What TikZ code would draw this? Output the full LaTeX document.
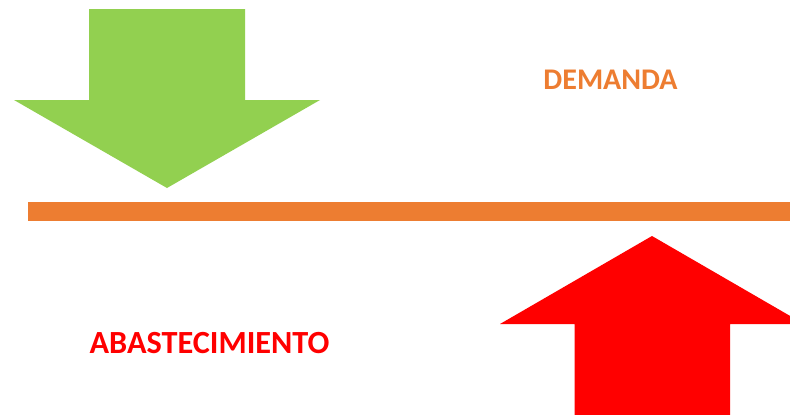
\documentclass[tikz,border=0pt]{standalone}
\usepackage{fontspec}
\setmainfont{Carlito}
\definecolor{arrowgreen}{HTML}{92D050}
\definecolor{barorange}{HTML}{ED7D31}
\definecolor{arrowred}{HTML}{FF0000}
\begin{document}
\begin{tikzpicture}[x=1pt,y=-1pt,
  lbl/.style={bold, inner sep=0pt, anchor=base},
  bold/.style={font=\bfseries}]
\useasboundingbox (0,0) rectangle (790,415);
\begin{scope}
\clip (0,0) rectangle (790,415);
% green arrow down
\fill[arrowgreen] (89,9) -- (245,9) -- (245,100) -- (320,100) -- (167,188) -- (14,100) -- (89,100) -- cycle;
% orange bar
\fill[barorange] (28,202) rectangle (790,221);
% red arrow up
\fill[arrowred] (574.5,415) -- (574.5,324) -- (500,324) -- (652,236) -- (804,324) -- (730,324) -- (730,415) -- cycle;
\end{scope}
\node[lbl, text=barorange, font=\fontsize{30}{36}\selectfont\bfseries] (dem) at (610.5,89.3) {DEMANDA};
\node[lbl, text=arrowred, font=\fontsize{32.3}{38}\selectfont\bfseries] (aba) at (209.5,353) {ABASTECIMIENTO};
\end{tikzpicture}
\end{document}
